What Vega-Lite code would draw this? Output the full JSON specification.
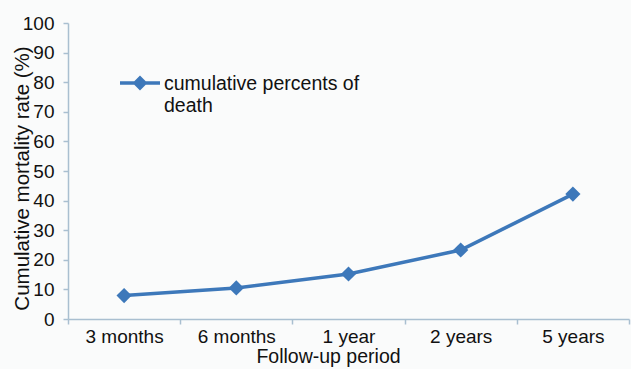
{
  "$schema": "https://vega.github.io/schema/vega-lite/v6.json",
  "width": 561,
  "height": 296,
  "autosize": "none",
  "padding": {"left": 68, "top": 23, "right": 2, "bottom": 50},
  "background": "#fafbfb",
  "config": {"view": {"stroke": null}, "font": "Liberation Sans"},
  "data": {
    "values": [
      {"period": "3 months", "value": 7.9, "series": "cumulative percents of death"},
      {"period": "6 months", "value": 10.5, "series": "cumulative percents of death"},
      {"period": "1 year", "value": 15.2, "series": "cumulative percents of death"},
      {"period": "2 years", "value": 23.3, "series": "cumulative percents of death"},
      {"period": "5 years", "value": 42.2, "series": "cumulative percents of death"}
    ]
  },
  "encoding": {
    "x": {
      "field": "period",
      "type": "ordinal",
      "sort": ["3 months", "6 months", "1 year", "2 years", "5 years"],
      "scale": {"type": "band", "paddingInner": 0, "paddingOuter": 0},
      "axis": {
        "title": "Follow-up period",
        "labelAngle": 0,
        "labelFontSize": 19,
        "labelColor": "#111111",
        "tickBand": "extent",
        "tickSize": 5,
        "domainColor": "#a9bfd0",
        "tickColor": "#a9bfd0",
        "domainWidth": 1.5,
        "tickWidth": 1.5,
        "labelPadding": 3,
        "titleFontSize": 19.5,
        "titleFontWeight": "normal",
        "titleX": 260,
        "titleY": 43,
        "titleBaseline": "alphabetic",
        "titleColor": "#111111",
        "grid": false
      }
    },
    "y": {
      "field": "value",
      "type": "quantitative",
      "scale": {"domain": [0, 100], "nice": false},
      "axis": {
        "title": "Cumulative mortality rate (%)",
        "values": [0, 10, 20, 30, 40, 50, 60, 70, 80, 90, 100],
        "labelFontSize": 19,
        "labelColor": "#111111",
        "tickSize": 5,
        "labelPadding": 9,
        "domainColor": "#a9bfd0",
        "tickColor": "#a9bfd0",
        "domainWidth": 1.5,
        "tickWidth": 1.5,
        "titleFontSize": 20.5,
        "titleFontWeight": "normal",
        "titleColor": "#111111",
        "titleX": -40,
        "titleY": 155,
        "titleAngle": 270,
        "titleBaseline": "alphabetic",
        "titleAlign": "center",
        "grid": false
      }
    },
    "color": {
      "field": "series",
      "type": "nominal",
      "scale": {"range": ["#3d78ba"]},
      "legend": {
        "orient": "none",
        "legendX": 50,
        "legendY": 45,
        "title": null,
        "symbolType": "M-1,-0.35L1,-0.35M-0.25,-0.35L0,-0.6L0.25,-0.35L0,-0.1Z",
        "symbolSize": 1600,
        "symbolStrokeWidth": 3.5,
        "symbolFillColor": "#3d78ba",
        "symbolStrokeColor": "#3d78ba",
        "labelFontSize": 19.5,
        "labelOffset": 2,
        "labelExpr": "[slice(datum.label, 0, 22), slice(datum.label, 23)]",
        "labelLimit": 400,
        "labelBaseline": "alphabetic",
        "labelColor": "#111111",
        "padding": 0
      }
    }
  },
  "layer": [
    {"mark": {"type": "line", "strokeWidth": 3.5}},
    {"mark": {"type": "point", "shape": "diamond", "filled": true, "size": 230, "opacity": 1}}
  ]
}
